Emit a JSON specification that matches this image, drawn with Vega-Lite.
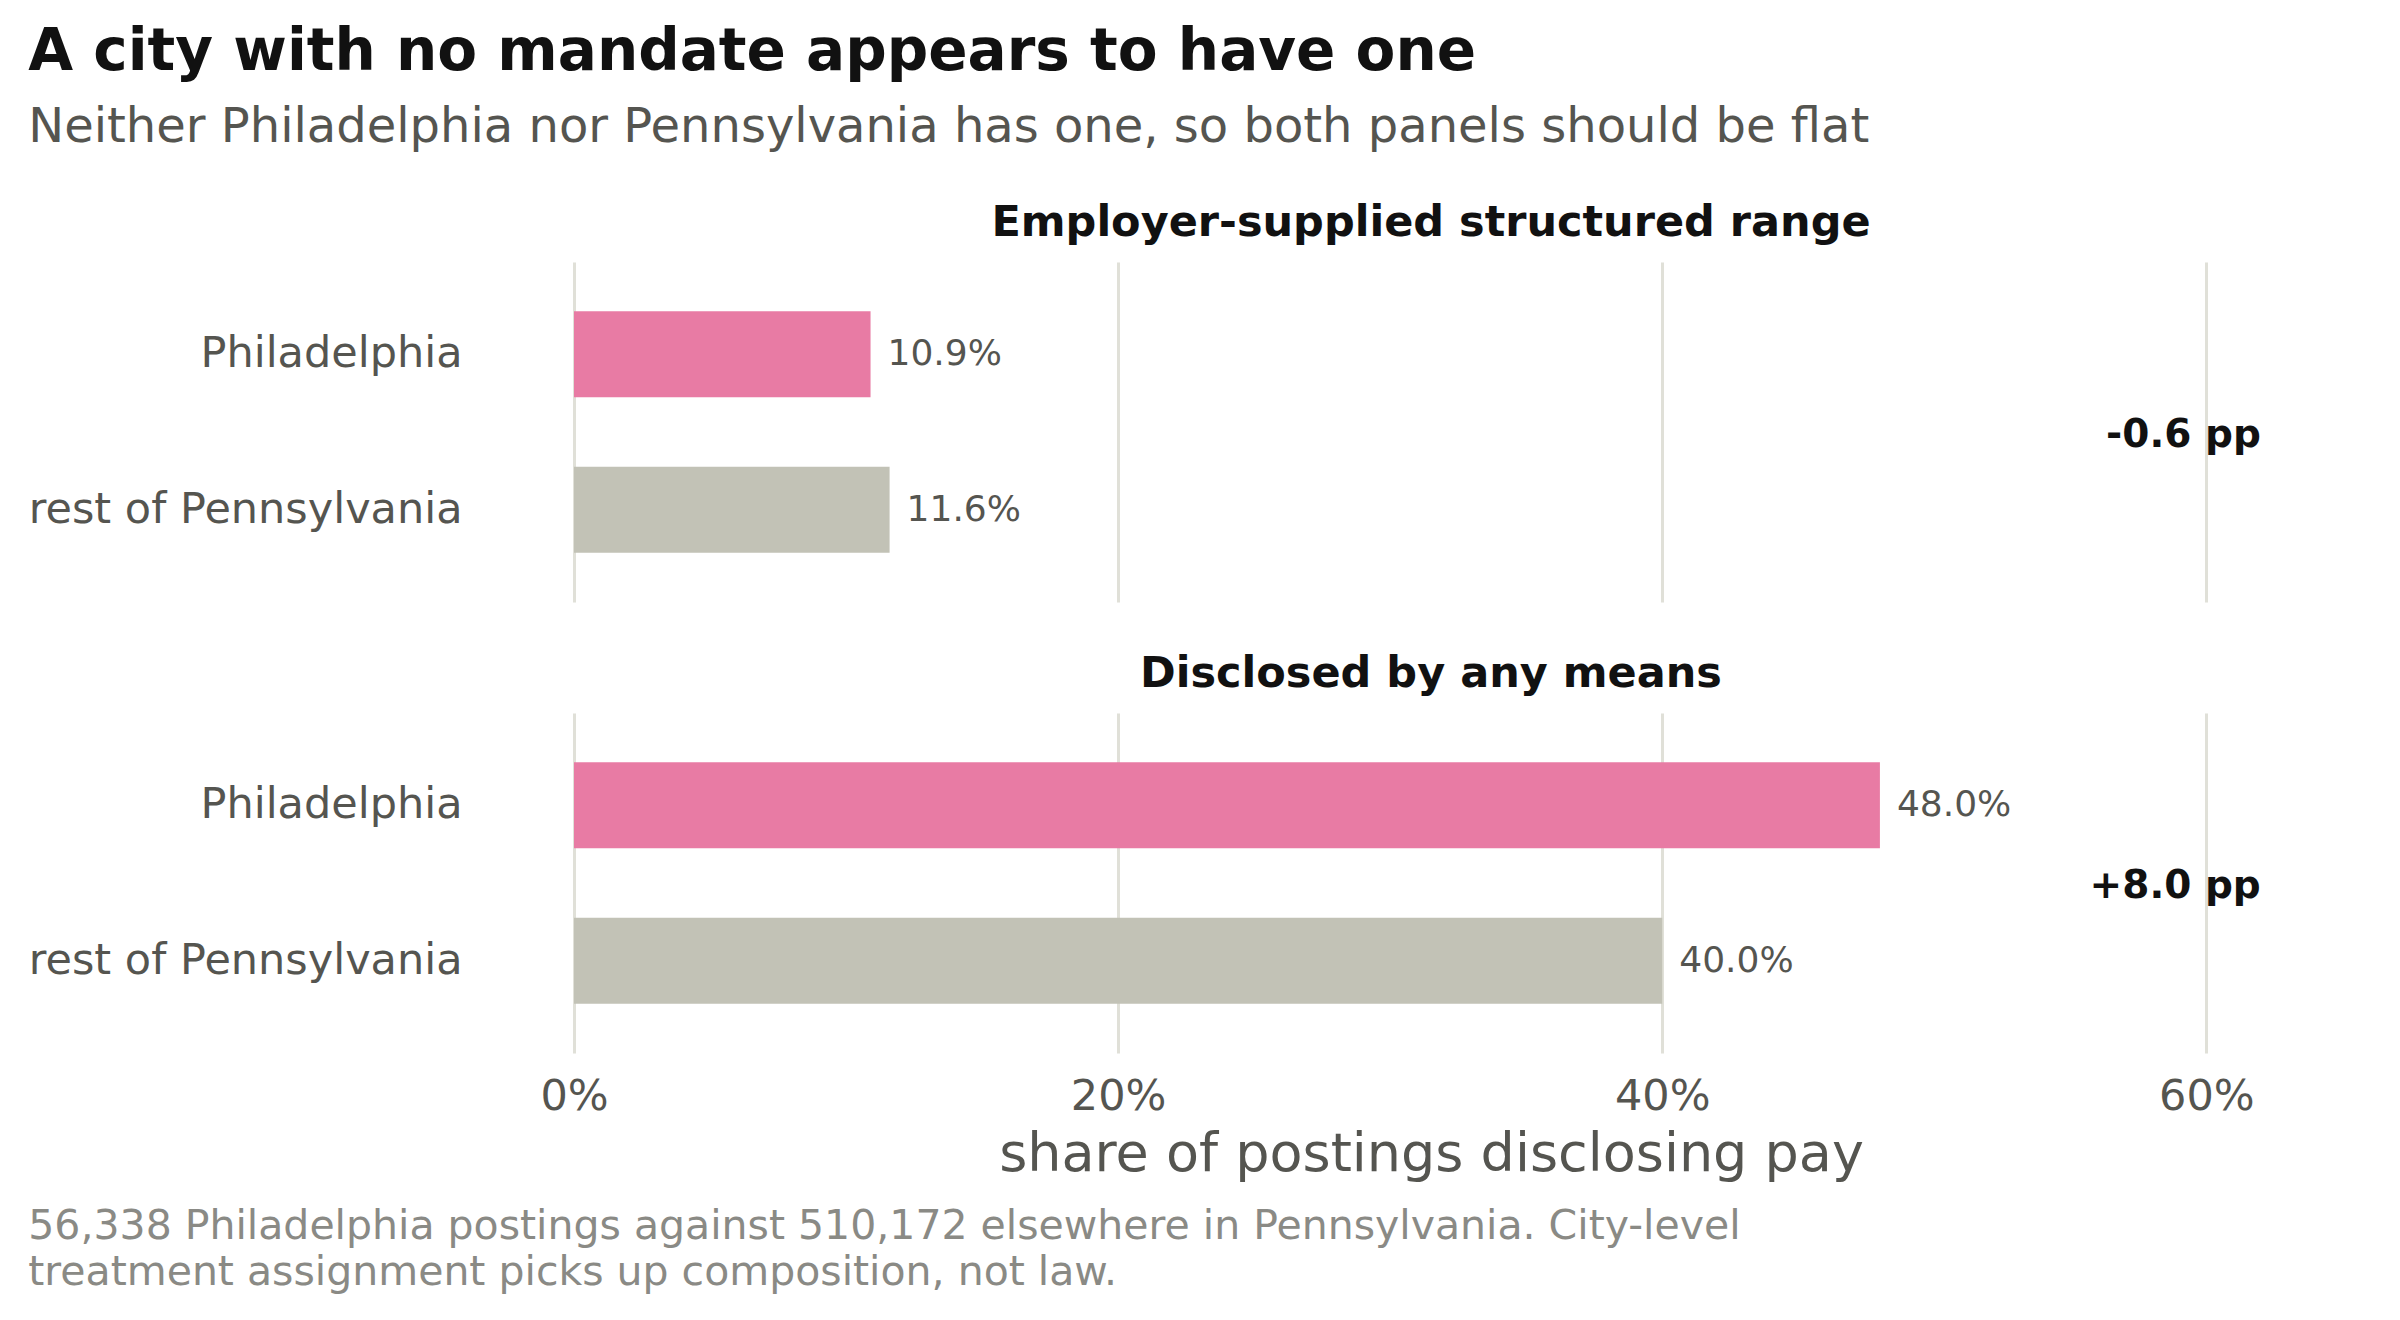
{
  "$schema": "https://vega.github.io/schema/vega-lite/v6.json",
  "background": "white",
  "padding": {"top": 24, "left": 28, "right": 20, "bottom": 20},
  "config": {
    "font": "DejaVu Sans",
    "view": {"stroke": null},
    "concat": {"spacing": 51},
    "axis": {"labelFont": "DejaVu Sans", "titleFont": "DejaVu Sans"}
  },
  "title": {
    "text": "A city with no mandate appears to have one",
    "subtitle": "Neither Philadelphia nor Pennsylvania has one, so both panels should be flat",
    "anchor": "start",
    "frame": "bounds",
    "fontSize": 58,
    "fontWeight": "bold",
    "color": "#111111",
    "subtitleFontSize": 48,
    "subtitleColor": "#555550",
    "subtitlePadding": 22,
    "offset": 50
  },
  "data": {
    "values": [
      {"panel": "Employer-supplied structured range", "region": "Philadelphia", "share": 0.109, "gap": "-0.6 pp"},
      {"panel": "Employer-supplied structured range", "region": "rest of Pennsylvania", "share": 0.116, "gap": "-0.6 pp"},
      {"panel": "Disclosed by any means", "region": "Philadelphia", "share": 0.48, "gap": "+8.0 pp"},
      {"panel": "Disclosed by any means", "region": "rest of Pennsylvania", "share": 0.40, "gap": "+8.0 pp"}
    ]
  },
  "vconcat": [
    {
      "title": {
        "text": [
          "56,338 Philadelphia postings against 510,172 elsewhere in Pennsylvania. City-level",
          "treatment assignment picks up composition, not law."
        ],
        "orient": "bottom",
        "anchor": "start",
        "frame": "bounds",
        "fontSize": 41,
        "fontWeight": "normal",
        "color": "#8a8a85",
        "lineHeight": 46,
        "offset": 26
      },
      "vconcat": [
        {
          "width": 1714,
          "height": 340,
          "title": {"text": "Employer-supplied structured range", "fontSize": 43, "fontWeight": "bold", "color": "#111111", "anchor": "middle", "offset": 17},
          "transform": [{"filter": "datum.panel === 'Employer-supplied structured range'"}],
          "encoding": {
            "y": {
              "field": "region", "type": "nominal", "sort": ["Philadelphia", "rest of Pennsylvania"],
              "scale": {"paddingInner": 0.446, "paddingOuter": 0.317},
              "axis": {"title": null, "ticks": false, "domain": false, "labelFontSize": 43, "labelColor": "#555550", "labelPadding": 112, "labelLimit": 0}
            }
          },
          "layer": [
            {
              "mark": {"type": "bar"},
              "encoding": {
                "x": {
                  "field": "share", "type": "quantitative",
                  "scale": {"domain": [0, 0.63], "nice": false},
                  "axis": {"values": [0, 0.2, 0.4, 0.6], "labels": false, "ticks": false, "domain": false, "title": null, "grid": true, "gridColor": "#e0e0d8", "gridWidth": 3}
                },
                "color": {
                  "field": "region", "type": "nominal",
                  "scale": {"domain": ["Philadelphia", "rest of Pennsylvania"], "range": ["#e87ba4", "#c2c2b6"]},
                  "legend": null
                }
              }
            },
            {
              "mark": {"type": "text", "align": "left", "baseline": "middle", "dx": 17, "fontSize": 36, "color": "#555550"},
              "encoding": {
                "x": {"field": "share", "type": "quantitative"},
                "text": {"field": "share", "type": "quantitative", "format": ".1%"}
              }
            },
            {
              "transform": [{"filter": "datum.region === 'Philadelphia'"}],
              "mark": {"type": "text", "align": "right", "baseline": "middle", "dy": 3, "fontSize": 39, "fontWeight": "bold", "color": "#111111"},
              "encoding": {
                "x": {"datum": 0.62, "type": "quantitative"},
                "y": null,
                "text": {"field": "gap"}
              }
            }
          ]
        },
        {
          "width": 1714,
          "height": 340,
          "title": {"text": "Disclosed by any means", "fontSize": 43, "fontWeight": "bold", "color": "#111111", "anchor": "middle", "offset": 17},
          "transform": [{"filter": "datum.panel === 'Disclosed by any means'"}],
          "encoding": {
            "y": {
              "field": "region", "type": "nominal", "sort": ["Philadelphia", "rest of Pennsylvania"],
              "scale": {"paddingInner": 0.446, "paddingOuter": 0.317},
              "axis": {"title": null, "ticks": false, "domain": false, "labelFontSize": 43, "labelColor": "#555550", "labelPadding": 112, "labelLimit": 0}
            }
          },
          "layer": [
            {
              "mark": {"type": "bar"},
              "encoding": {
                "x": {
                  "field": "share", "type": "quantitative",
                  "scale": {"domain": [0, 0.63], "nice": false},
                  "axis": {"values": [0, 0.2, 0.4, 0.6], "format": ".0%", "ticks": false, "domain": false, "grid": true, "gridColor": "#e0e0d8", "gridWidth": 3, "labelFontSize": 43, "labelColor": "#555550", "labelPadding": 22, "labelFlush": false, "title": "share of postings disclosing pay", "titleFontSize": 54, "titleFontWeight": "normal", "titleColor": "#555550", "titlePadding": 9}
                },
                "color": {
                  "field": "region", "type": "nominal",
                  "scale": {"domain": ["Philadelphia", "rest of Pennsylvania"], "range": ["#e87ba4", "#c2c2b6"]},
                  "legend": null
                }
              }
            },
            {
              "mark": {"type": "text", "align": "left", "baseline": "middle", "dx": 17, "fontSize": 36, "color": "#555550"},
              "encoding": {
                "x": {"field": "share", "type": "quantitative"},
                "text": {"field": "share", "type": "quantitative", "format": ".1%"}
              }
            },
            {
              "transform": [{"filter": "datum.region === 'Philadelphia'"}],
              "mark": {"type": "text", "align": "right", "baseline": "middle", "dy": 3, "fontSize": 39, "fontWeight": "bold", "color": "#111111"},
              "encoding": {
                "x": {"datum": 0.62, "type": "quantitative"},
                "y": null,
                "text": {"field": "gap"}
              }
            }
          ]
        }
      ]
    }
  ]
}
